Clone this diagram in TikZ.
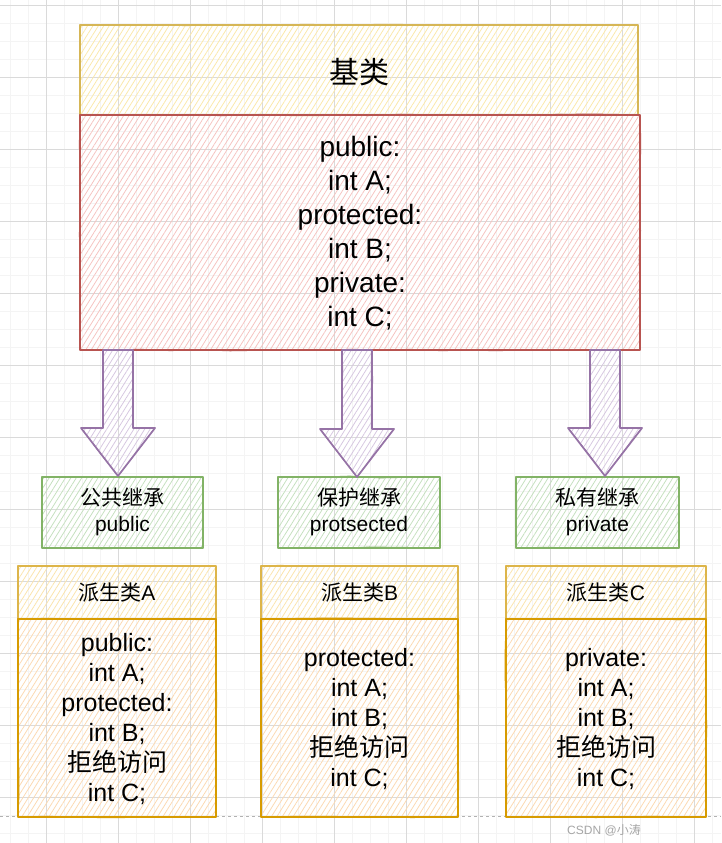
\documentclass[tikz,border=0pt]{standalone}
\usepackage{fontspec}
\setmainfont{Liberation Sans}
\newfontfamily\cjk{Noto Sans CJK SC}
\usetikzlibrary{patterns.meta,decorations.pathmorphing,calc}
\definecolor{gridmin}{HTML}{F4F4F4}
\definecolor{gridmaj}{HTML}{DADADA}
\definecolor{ybor}{HTML}{D6B656}
\definecolor{yhat}{HTML}{FBE8A8}
\definecolor{rbor}{HTML}{B85450}
\definecolor{rhat}{HTML}{F6C2BF}
\definecolor{gbor}{HTML}{82B366}
\definecolor{ghat}{HTML}{C4E0BD}
\definecolor{pbor}{HTML}{9673A6}
\definecolor{phat}{HTML}{D6C6E0}
\definecolor{obor}{HTML}{D79B00}
\definecolor{ohat}{HTML}{FCD9B0}
\definecolor{hbor}{HTML}{DDB54A}
\definecolor{hhat}{HTML}{FBE4AA}
\tikzset{
  sketch/.style 2 args={draw=#1, line width=1.4pt, line join=round,
    pattern={Lines[angle=58,distance=4.6pt,line width=0.75pt]}, pattern color=#2,
    postaction={draw=#1, line width=0.7pt, decorate,
      decoration={random steps, segment length=30pt, amplitude=1pt}}},
  boxnode/.style={inner sep=0pt, outer sep=0pt, anchor=north west, align=center},
  bigtxt/.style={font=\fontsize{28}{34}\selectfont},
  midtxt/.style={font=\fontsize{25}{30}\selectfont},
  smalltxt/.style={font=\fontsize{21}{26}\selectfont},
  arrowshape/.style={sketch={pbor}{phat}, line width=1.7pt},
}
\begin{document}
\begin{tikzpicture}[x=1pt,y=-1pt]
\useasboundingbox (0,0) rectangle (721,843);
\fill[white] (0,0) rectangle (721,843);
% grid
\foreach \k in {0,...,41} {
  \draw[gridmin, line width=0.6pt] ({-8+18*\k},0) -- ({-8+18*\k},843);
}
\foreach \k in {0,...,47} {
  \draw[gridmin, line width=0.6pt] (0,{5+18*\k}) -- (721,{5+18*\k});
}
\foreach \k in {0,...,10} {
  \draw[gridmaj, line width=0.8pt] ({-26+72*\k},0) -- ({-26+72*\k},843);
}
\foreach \k in {0,...,11} {
  \draw[gridmaj, line width=0.8pt] (0,{5+72*\k}) -- (721,{5+72*\k});
}
\draw[gray!60, dashed, line width=0.8pt] (0,816) -- (721,816);

% base class
\node[boxnode, sketch={ybor}{yhat}, minimum width=558, minimum height=90] (basehead) at (80,25) {};
\node[font=\fontsize{30}{34}\selectfont\cjk] (basetitle) at ($(basehead.center)+(0,2)$) {基类};
\node[boxnode, sketch={rbor}{rhat}, minimum width=560, minimum height=235] (basebody) at (80,115) {};
\node[bigtxt, align=center] (basetext) at ($(basebody.center)+(0,1)$) {public:\\int A;\\protected:\\int B;\\private:\\int C;};

% inheritance labels
\node[boxnode, sketch={gbor}{ghat}, minimum width=161, minimum height=71] (ga) at (42,477) {};
\node[smalltxt, align=center] (gat) at ($(ga.center)+(0,-1)$) {{\cjk 公共继承}\\public};
\node[boxnode, sketch={gbor}{ghat}, minimum width=162, minimum height=71] (gb) at (278,477) {};
\node[smalltxt, align=center] (gbt) at ($(gb.center)+(0,-1)$) {{\cjk 保护继承}\\protsected};
\node[boxnode, sketch={gbor}{ghat}, minimum width=163, minimum height=71] (gc) at (516,477) {};
\node[smalltxt, align=center] (gct) at ($(gc.center)+(0,-1)$) {{\cjk 私有继承}\\private};

% arrows
\coordinate (s1) at (118,350); \coordinate (t1) at (118,476);
\coordinate (s2) at (357,350); \coordinate (t2) at (357,477);
\coordinate (s3) at (605,350); \coordinate (t3) at (605,476);
\foreach \i in {1,2,3} {
  \draw[arrowshape] ($(s\i)+(-15,0)$) -- ($(s\i)+(15,0)$) -- ($(t\i)+(15,-48)$) -- ($(t\i)+(37,-48)$) -- (t\i) -- ($(t\i)+(-37,-48)$) -- ($(t\i)+(-15,-48)$) -- cycle;
}

% derived classes
\node[boxnode, sketch={hbor}{hhat}, minimum width=198, minimum height=53] (da) at (18,566) {};
\node[smalltxt] (dat) at (da.center) {{\cjk 派生类}A};
\node[boxnode, sketch={obor}{ohat}, minimum width=198, minimum height=198] (dab) at (18,619) {};
\node[midtxt, align=center] (dabt) at ($(dab.center)+(0,1)$) {public:\\int A;\\protected:\\int B;\\{\cjk 拒绝访问}\\int C;};

\node[boxnode, sketch={hbor}{hhat}, minimum width=197, minimum height=53] (db) at (261,566) {};
\node[smalltxt] (dbt) at (db.center) {{\cjk 派生类}B};
\node[boxnode, sketch={obor}{ohat}, minimum width=197, minimum height=198] (dbb) at (261,619) {};
\node[midtxt, align=center] (dbbt) at ($(dbb.center)+(0,1)$) {protected:\\int A;\\int B;\\{\cjk 拒绝访问}\\int C;};

\node[boxnode, sketch={hbor}{hhat}, minimum width=200, minimum height=53] (dc) at (506,566) {};
\node[smalltxt] (dct) at (dc.center) {{\cjk 派生类}C};
\node[boxnode, sketch={obor}{ohat}, minimum width=200, minimum height=198] (dcb) at (506,619) {};
\node[midtxt, align=center] (dcbt) at ($(dcb.center)+(0,1)$) {private:\\int A;\\int B;\\{\cjk 拒绝访问}\\int C;};

% watermark
\node[font=\fontsize{12}{14}\selectfont, text=gray!70] (wm) at (604,830) {CSDN @{\cjk 小涛}};
\end{tikzpicture}
\end{document}
